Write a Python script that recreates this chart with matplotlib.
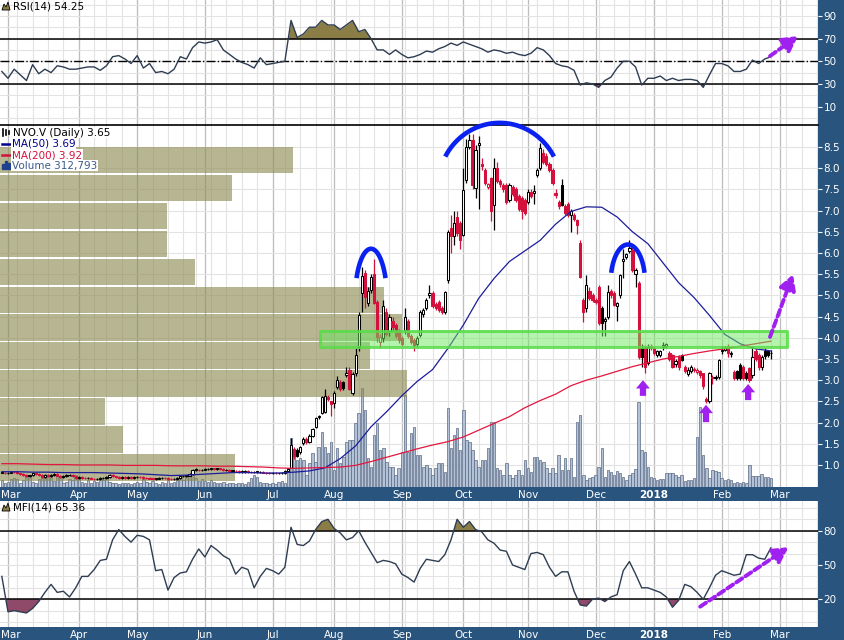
import numpy as np
import pandas as pd
import matplotlib
matplotlib.use("Agg")
import matplotlib.pyplot as plt
from matplotlib.lines import Line2D
from matplotlib.patches import Rectangle, Polygon

plt.rcParams['font.family'] = 'DejaVu Sans'

# ---- trading calendar (TSX Venture, holidays removed) ----
holidays = ["2017-04-14", "2017-05-22", "2017-07-03", "2017-08-07", "2017-09-04",
            "2017-10-09", "2017-12-25", "2017-12-26", "2018-01-01", "2018-02-19"]
days = pd.bdate_range("2017-02-27", "2018-03-30")
days = days[~days.isin(pd.to_datetime(holidays))]

# ---- daily candles NVO.V ----
opens = [0.83,0.82,0.81,0.82,0.84,0.83,0.80,0.78,0.76,0.74,
         0.76,0.80,0.78,0.77,0.72,0.76,0.74,0.77,0.79,0.75,
         0.71,0.74,0.77,0.76,0.73,0.70,0.71,0.70,0.69,0.70,
         0.68,0.66,0.67,0.69,0.70,0.72,0.76,0.73,0.71,0.70,
         0.71,0.70,0.71,0.70,0.71,0.72,0.71,0.70,0.69,0.68,
         0.67,0.68,0.69,0.70,0.69,0.67,0.66,0.67,0.70,0.73,
         0.74,0.75,0.78,0.90,0.88,0.87,0.89,0.90,0.91,0.92,
         0.91,0.92,0.90,0.89,0.88,0.87,0.86,0.85,0.85,0.84,
         0.85,0.84,0.83,0.84,0.83,0.84,0.82,0.81,0.80,0.81,
         0.80,0.80,0.81,0.86,0.93,1.38,1.36,1.30,1.52,1.62,
         1.55,1.68,1.90,2.12,2.23,2.25,2.60,2.50,2.46,2.84,
         2.95,2.95,3.12,3.25,2.70,3.17,3.78,5.05,5.53,4.83,
         5.13,5.50,4.84,3.90,4.00,4.60,4.15,4.40,4.30,4.15,
         4.00,4.18,4.40,4.05,3.95,3.85,4.07,4.55,4.70,5.00,
         5.05,4.80,4.85,4.70,4.60,5.36,6.60,6.40,6.85,6.70,
         6.42,7.72,8.50,8.66,7.53,8.55,8.10,7.95,7.55,7.77,
         7.13,8.00,7.70,7.60,7.60,7.25,7.55,7.50,7.35,7.30,
         7.25,7.20,7.45,7.42,7.83,8.00,8.35,8.30,8.10,7.95,
         7.42,7.20,7.60,7.10,7.15,6.90,6.90,6.78,6.24,4.89,
         4.70,5.10,5.00,4.88,5.20,4.70,4.40,4.50,5.10,5.05,
         4.76,5.00,5.80,5.90,6.05,6.07,5.50,5.30,3.77,3.78,
         3.40,3.80,3.75,3.60,3.60,3.78,3.80,3.63,3.60,3.38,
         3.55,3.60,3.32,3.15,3.22,3.27,3.20,3.22,3.16,2.55,
         2.50,3.06,3.04,3.07,3.68,3.72,3.80,3.62,3.20,3.22,
         3.35,3.30,3.18,3.28,3.13,3.70,3.60,3.30,3.70,3.68,
         3.63]
highs = [0.85,0.84,0.84,0.86,0.86,0.85,0.82,0.80,0.78,0.77,
         0.82,0.82,0.80,0.79,0.78,0.78,0.79,0.81,0.81,0.77,
         0.76,0.78,0.79,0.78,0.75,0.73,0.73,0.72,0.72,0.72,
         0.70,0.69,0.71,0.72,0.74,0.78,0.78,0.75,0.73,0.73,
         0.73,0.73,0.73,0.73,0.74,0.74,0.73,0.72,0.71,0.70,
         0.70,0.71,0.72,0.72,0.71,0.69,0.69,0.72,0.75,0.76,
         0.77,0.80,0.90,0.92,0.90,0.91,0.92,0.93,0.94,0.94,
         0.94,0.94,0.92,0.91,0.90,0.89,0.88,0.87,0.87,0.87,
         0.87,0.86,0.86,0.86,0.86,0.86,0.84,0.83,0.83,0.83,
         0.82,0.83,0.88,0.92,1.64,1.42,1.40,1.45,1.66,1.66,
         1.72,1.88,2.12,2.18,2.62,2.80,2.65,2.52,2.75,3.10,
         3.00,2.98,3.30,3.30,3.20,3.75,4.60,5.66,5.60,5.20,
         5.50,5.85,4.90,4.10,4.90,4.70,4.55,4.50,4.35,4.20,
         4.05,4.70,4.45,4.10,4.00,4.05,4.65,4.70,4.95,5.25,
         5.10,4.85,4.90,4.75,5.10,6.55,6.90,7.00,7.00,6.75,
         8.00,8.70,8.80,8.80,8.55,8.75,8.25,8.00,7.65,7.80,
         8.25,8.15,7.75,7.65,7.65,7.65,7.60,7.55,7.40,7.35,
         7.30,7.50,7.50,7.60,8.00,8.60,8.45,8.35,8.15,8.00,
         7.50,7.25,7.75,7.15,7.20,7.05,6.95,6.80,6.30,4.95,
         5.48,5.20,5.05,4.95,5.25,4.75,4.50,5.25,5.15,5.10,
         4.85,5.50,6.10,6.00,6.30,6.20,5.65,5.35,3.85,3.82,
         3.85,3.85,3.78,3.72,3.72,3.90,3.88,3.68,3.62,3.50,
         3.60,3.62,3.35,3.30,3.35,3.30,3.28,3.25,3.18,2.60,
         3.20,3.12,3.12,3.50,3.80,3.80,3.85,3.70,3.25,3.25,
         3.40,3.35,3.22,3.30,3.80,3.75,3.65,3.60,3.75,3.72,
         3.72]
lows = [0.80,0.79,0.79,0.80,0.81,0.78,0.76,0.74,0.72,0.72,
        0.74,0.76,0.75,0.70,0.70,0.72,0.72,0.75,0.73,0.69,
        0.69,0.72,0.74,0.72,0.68,0.68,0.68,0.67,0.67,0.66,
        0.64,0.64,0.65,0.67,0.68,0.70,0.71,0.69,0.68,0.68,
        0.68,0.68,0.68,0.68,0.69,0.69,0.68,0.67,0.66,0.65,
        0.65,0.66,0.67,0.67,0.65,0.64,0.64,0.65,0.68,0.71,
        0.72,0.73,0.76,0.86,0.85,0.85,0.87,0.88,0.89,0.89,
        0.89,0.88,0.86,0.86,0.84,0.84,0.83,0.82,0.82,0.82,
        0.82,0.81,0.81,0.82,0.81,0.80,0.79,0.78,0.78,0.78,
        0.78,0.78,0.79,0.84,0.92,1.15,1.18,1.25,1.48,1.50,
        1.52,1.65,1.88,2.08,2.20,2.22,2.50,2.15,2.35,2.80,
        2.75,2.78,3.08,2.78,2.65,3.10,3.70,4.60,4.70,4.75,
        5.05,4.80,3.90,3.75,3.90,4.05,4.05,4.15,4.00,3.88,
        3.80,4.10,4.00,3.85,3.70,3.78,4.02,4.50,4.65,4.95,
        4.70,4.65,4.60,4.55,4.55,5.30,6.00,6.20,6.40,6.10,
        6.40,7.65,8.45,7.50,7.30,7.05,7.95,7.60,7.50,6.75,
        6.55,7.65,7.55,7.45,7.15,7.20,7.35,7.20,7.00,6.80,
        6.90,7.15,7.30,7.15,7.80,7.95,8.10,8.05,7.90,7.60,
        7.30,7.05,7.10,6.90,6.85,6.50,6.75,6.45,5.40,4.38,
        4.60,4.90,4.85,4.80,4.30,4.05,4.05,4.45,4.95,4.75,
        4.40,4.95,5.40,5.85,6.00,5.55,5.20,3.50,3.30,3.16,
        3.35,3.72,3.60,3.55,3.55,3.72,3.75,3.45,3.28,3.30,
        3.25,3.45,3.18,3.10,3.18,3.20,3.15,3.05,2.80,2.45,
        2.45,2.90,3.00,3.02,3.62,3.68,3.55,3.55,3.00,3.00,
        3.00,3.00,3.00,2.95,3.05,3.45,3.25,3.25,3.50,3.55,
        3.50]
closes = [0.82,0.81,0.82,0.84,0.83,0.80,0.78,0.76,0.74,0.75,
          0.80,0.78,0.77,0.72,0.76,0.74,0.77,0.79,0.75,0.71,
          0.74,0.76,0.76,0.74,0.70,0.71,0.70,0.69,0.70,0.68,
          0.66,0.67,0.69,0.70,0.72,0.76,0.73,0.71,0.70,0.71,
          0.70,0.71,0.70,0.71,0.72,0.71,0.70,0.69,0.68,0.67,
          0.68,0.69,0.70,0.69,0.67,0.66,0.67,0.70,0.73,0.74,
          0.75,0.78,0.88,0.88,0.87,0.89,0.90,0.91,0.92,0.91,
          0.92,0.90,0.88,0.88,0.86,0.86,0.85,0.84,0.84,0.85,
          0.84,0.83,0.84,0.84,0.84,0.82,0.81,0.80,0.81,0.80,
          0.80,0.81,0.86,0.90,1.47,1.20,1.22,1.42,1.62,1.55,
          1.68,1.85,2.10,2.16,2.60,2.62,2.55,2.44,2.70,3.00,
          2.80,2.82,3.16,2.80,3.15,3.60,4.54,5.45,4.96,5.11,
          5.44,4.83,4.03,4.02,4.75,4.10,4.50,4.25,4.05,3.95,
          3.85,4.50,4.05,3.90,3.80,4.00,4.60,4.65,4.90,5.05,
          4.75,4.70,4.65,4.60,5.08,6.50,6.40,6.70,6.47,6.30,
          7.49,8.50,8.66,7.60,8.43,8.60,8.05,7.65,7.62,7.00,
          8.00,7.70,7.62,7.50,7.20,7.60,7.40,7.25,7.05,7.00,
          6.95,7.45,7.35,7.46,7.95,8.48,8.15,8.10,7.95,7.65,
          7.38,7.10,7.13,6.95,6.90,7.00,6.80,6.66,5.43,4.62,
          5.25,4.95,4.90,4.85,4.35,4.35,4.45,5.08,5.00,4.78,
          4.82,5.48,5.85,5.98,6.12,5.60,5.60,3.55,3.55,3.32,
          3.79,3.77,3.65,3.68,3.70,3.82,3.85,3.50,3.32,3.45,
          3.30,3.48,3.22,3.25,3.30,3.25,3.23,3.12,2.86,2.52,
          3.16,3.08,3.08,3.47,3.72,3.75,3.63,3.65,3.05,3.05,
          3.06,3.05,3.05,3.00,3.55,3.50,3.30,3.55,3.58,3.60,
          3.65]
# volume, thousands of shares
volume_k = [245,140,175,280,315,280,140,245,350,385,
            175,140,280,315,385,420,350,210,350,385,
            140,175,280,245,420,350,175,140,245,140,
            210,175,315,245,350,175,140,140,105,140,
            140,140,105,140,175,140,280,175,140,210,
            140,105,175,140,245,140,175,280,350,245,
            350,420,490,315,210,280,210,175,245,175,
            140,140,175,105,140,140,105,140,140,105,
            175,315,420,350,175,140,140,105,140,105,
            175,210,140,665,1715,1225,945,1015,945,420,
            840,1190,875,1400,1925,1400,1190,1575,595,1365,
            840,1050,1575,1645,1645,2240,2590,3465,2695,1015,
            700,1820,2240,1295,1365,875,700,700,420,665,
            1225,3220,1225,1890,2100,1120,1120,700,770,665,
            420,665,840,840,525,2765,1365,1820,2065,1295,
            2695,1645,1575,1295,945,700,945,945,1365,2275,
            2275,665,595,420,840,420,315,420,595,420,
            945,665,525,1050,1050,945,875,665,490,665,
            490,1120,595,1015,595,1015,350,2275,2520,420,
            245,315,350,420,700,1365,350,595,525,420,
            560,490,350,245,420,490,630,2975,1295,1225,
            700,350,315,245,280,280,490,490,490,420,
            350,420,210,245,245,315,1750,2800,1120,665,
            315,595,560,525,315,245,280,245,140,175,
            140,175,140,770,385,385,385,455,350,350,
            313]

# moving averages, read every 5th session
ma_step = 5
ma50 = [0.84,0.84,0.83,0.83,0.82,0.82,0.82,0.81,0.80,0.79,
        0.77,0.75,0.76,0.78,0.80,0.82,0.82,0.81,0.81,0.83,
        0.86,0.93,1.15,1.45,1.90,2.25,2.63,2.97,3.25,3.75,
        4.30,4.93,5.40,5.80,6.05,6.30,6.68,6.98,7.09,7.08,
        6.85,6.50,6.22,5.76,5.30,4.95,4.53,4.08,3.86,3.74,
        3.69]
ma200 = [1.03,1.03,1.02,1.01,1.01,1.00,1.00,1.00,0.99,0.99,
         0.99,0.98,0.98,0.98,0.97,0.97,0.96,0.95,0.93,0.92,
         0.93,0.94,0.95,0.99,1.08,1.18,1.28,1.38,1.47,1.55,
         1.66,1.82,1.98,2.14,2.35,2.52,2.67,2.87,3.00,3.10,
         3.21,3.32,3.41,3.50,3.56,3.63,3.69,3.74,3.80,3.86,
         3.92]

# oscillators, read every 2nd session
osc_step = 2
rsi = [41,35,43,38,33,47,39,43,40,46,
       45,43,43,44,45,45,42,46,54,55,
       52,48,55,44,48,40,41,39,43,54,
       52,62,67,66,67,69,60,56,52,49,
       47,44,53,47,48,49,50,86,71,74,
       80,80,86,82,82,78,82,86,76,78,
       70,60,60,56,60,56,53,54,56,59,
       58,61,63,66,64,67,65,63,61,58,
       60,59,57,58,56,55,57,62,60,55,
       48,46,45,42,29,31,30,27,33,36,
       44,50,50,45,29,35,35,37,33,35,
       33,34,34,33,27,38,48,48,46,41,
       41,43,51,48,52,54]
mfi = [40,9,10,9,8,12,18,26,33,26,
       27,22,30,40,40,46,54,55,72,81,
       75,70,76,75,72,45,46,28,39,43,
       44,55,64,57,67,63,58,55,42,48,
       46,30,40,47,45,42,48,83,68,67,
       71,81,88,90,82,78,72,74,80,70,
       61,52,54,53,51,42,39,35,47,55,
       54,53,59,72,90,83,88,81,79,72,
       69,63,62,50,48,46,60,61,59,48,
       40,44,44,27,15,14,20,21,18,22,
       24,45,53,42,30,30,28,26,22,13,
       19,33,31,26,20,30,41,45,43,41,
       42,59,59,56,55,65]

# volume by price (millions of shares per price zone)
vbp_lo = [0.62,1.28,1.94,2.60,3.26,3.92,4.58,5.24,5.90,6.56,7.22,7.88]
vbp_vol = [13.4,7.0,6.0,23.2,21.1,22.9,21.9,11.1,9.5,9.5,13.2,16.7]

# ---- styling ----
W, H = 844, 640
STRIP = '#29547e'
RED = '#d4103c'
NAVYLINE = '#1c1c9c'
MA200C = '#e2173f'
OSC = '#2e3d52'
OLIVE = '#8a7d45'
MAROON = '#8e4a68'
PURPLE = '#a020f0'
BLUE = '#0a22f0'
GRID = '#e3e3e3'
MGRID = '#bdbdbd'
FS = 7.5

fig = plt.figure(figsize=(W / 100, H / 100), dpi=100)
fig.patch.set_facecolor('white')


def box(top, bottom):
    return [0, 1 - bottom / H, 818 / W, (bottom - top) / H]


ax_rsi = fig.add_axes(box(0, 125))
ax_vol = fig.add_axes(box(125, 487))
ax_px = fig.add_axes(box(125, 487))
ax_px.set_facecolor('none')
ax_mfi = fig.add_axes(box(501, 627))

# dark strips (right scale + date bars)
fig.add_artist(Rectangle((818 / W, 0), 26 / W, 1, transform=fig.transFigure, color=STRIP, zorder=-5))
fig.add_artist(Rectangle((0, 1 - 501 / H), 1, 14 / H, transform=fig.transFigure, color=STRIP, zorder=-5))
fig.add_artist(Rectangle((0, 0), 1, 13 / H, transform=fig.transFigure, color=STRIP, zorder=-5))

n = len(closes)
x = np.arange(n)
xlim = (-0.6, 265.3)
month_idx = [i for i in range(1, len(days)) if days[i].month != days[i - 1].month]
week_idx = [i for i in range(1, len(days)) if days[i].weekday() < days[i - 1].weekday()]
month_lab = [str(days[i].year) if days[i].month == 1 else days[i].strftime('%b') for i in month_idx]
label_pos = [xlim[0] + 0.2] + month_idx[1:]

for ax in (ax_rsi, ax_vol, ax_px, ax_mfi):
    ax.set_xlim(*xlim)
    for s in ax.spines.values():
        s.set_visible(False)

for ax in (ax_rsi, ax_vol, ax_mfi):
    for w in week_idx:
        ax.axvline(w, color=GRID, lw=0.8, zorder=0)
    for m in month_idx:
        ax.axvline(m, color=MGRID, lw=0.9, zorder=0)

# ---- price panel ----
ax_px.set_ylim(0.48, 9.02)
ax_vol.set_ylim(0, 12670)
for p in np.arange(1.0, 9.0, 0.5):
    ax_vol.plot(xlim, [p, p], color=GRID, lw=0.8, zorder=0, transform=ax_px.transData)

ax_vol.bar(x, volume_k, width=0.8, color='#b3c2d6', edgecolor='#5a6a84', lw=0.5, zorder=2)

bar_len = 407 / 3.076
ax_px.barh(vbp_lo, [v / max(vbp_vol) * bar_len for v in vbp_vol], height=0.63,
           left=xlim[0], align='edge', color='#8c8a50', alpha=0.62, lw=0, zorder=1)

o, h, l, c = map(np.array, (opens, highs, lows, closes))
prev = np.r_[c[0], c[:-1]]
edge = ['black' if c[k] >= prev[k] else RED for k in range(n)]
face = ['white' if c[k] >= o[k] else edge[k] for k in range(n)]
ax_px.vlines(x, l, h, colors=edge, lw=0.9, zorder=3)
ax_px.bar(x, np.maximum(np.abs(c - o), 0.012), bottom=np.minimum(o, c), width=0.72,
          color=face, edgecolor=edge, lw=0.75, zorder=4)

ma_x = np.arange(0, n, ma_step)
ax_px.plot(ma_x, ma50, color=NAVYLINE, lw=0.9, zorder=5)
ax_px.plot(ma_x, ma200, color=MA200C, lw=0.9, zorder=5)

# support zone and pattern marks
ax_px.add_patch(Rectangle((103.4, 3.78), 151.8, 0.39, fc='#6ee861', ec='none', alpha=0.5, zorder=7))
ax_px.add_patch(Rectangle((103.4, 3.78), 151.8, 0.39, fill=False, ec='#58dc48', lw=2.2,
                          alpha=0.85, joinstyle='round', zorder=7))

for xc, yc, a, b, t1, t2 in [(120, 4.9, 5.2, 1.2, 25, 155),
                             (161.8, 7.57, 20, 1.5, 28, 152),
                             (203.5, 5.3, 5.6, 0.9, 15, 165)]:
    t = np.radians(np.linspace(t1, t2, 80))
    ax_px.plot(xc + a * np.cos(t), yc + b * np.sin(t), color=BLUE, lw=3.3,
               solid_capstyle='butt', zorder=8, clip_on=False)


def up_arrow(ax, xa, y0, y1):
    ax.annotate('', xy=(xa, y1), xytext=(xa, y0),
                arrowprops=dict(arrowstyle='simple,head_length=0.6,head_width=1.0,tail_width=0.45',
                                fc=PURPLE, ec='none', mutation_scale=10, shrinkA=0, shrinkB=0),
                zorder=9)


def dash_arrow(ax, p0, p1):
    ax.annotate('', xy=p1, xytext=p0, annotation_clip=False,
                arrowprops=dict(arrowstyle='-|>,head_length=0.9,head_width=0.5', color=PURPLE,
                                lw=2.8, linestyle=(0, (1.8, 1.0)), mutation_scale=10,
                                shrinkA=0, shrinkB=0),
                zorder=9)


up_arrow(ax_px, 208.4, 2.63, 3.0)
up_arrow(ax_px, 228.9, 2.01, 2.42)
up_arrow(ax_px, 242.6, 2.53, 2.91)
dash_arrow(ax_px, (249.7, 4.02), (257.2, 5.5))

ax_px.spines['top'].set_visible(True)
ax_px.spines['top'].set_color('black')
ax_px.spines['top'].set_linewidth(1.2)
ax_px.yaxis.tick_right()
ax_px.set_yticks(np.arange(1.0, 8.6, 0.5))
ax_px.set_yticklabels([f'{v:.1f}' for v in np.arange(1.0, 8.6, 0.5)])
ax_vol.set_xticks([])
ax_vol.set_yticks([])


def osc_panel(ax, vals, hi, lo, ylim, ticks):
    xs = np.arange(0, n, osc_step)
    v = np.array(vals, dtype=float)
    ax.set_ylim(*ylim)
    for g in range(0, 101, 10):
        ax.axhline(g, color=GRID, lw=0.8, zorder=0)
    ax.fill_between(xs, v, hi, where=v >= hi, interpolate=True, color=OLIVE, lw=0, zorder=2)
    ax.fill_between(xs, v, lo, where=v <= lo, interpolate=True, color=MAROON, lw=0, zorder=2)
    ax.plot(xs, v, color=OSC, lw=1.0, zorder=3)
    ax.axhline(hi, color='black', lw=1.1, zorder=2.5)
    ax.axhline(lo, color='black', lw=1.1, zorder=2.5)
    ax.yaxis.tick_right()
    ax.set_yticks(ticks)


osc_panel(ax_rsi, rsi, 70, 30, (-6.2, 104), [10, 30, 50, 70, 90])
ax_rsi.axhline(50, color='black', lw=1.0, ls='-.', zorder=2.5)
ax_rsi.set_xticks([])
dash_arrow(ax_rsi, (249.7, 54.6), (258.8, 72.2))

osc_panel(ax_mfi, mfi, 80, 20, (-4.3, 106), [20, 50, 80])
dash_arrow(ax_mfi, (227, 13.5), (255.7, 65.5))

for ax in (ax_px, ax_mfi):
    ax.set_xticks(label_pos)
    ax.set_xticklabels(month_lab)
    ticklabels = ax.get_xticklabels()
    ticklabels[0].set_horizontalalignment('left')
    for t, lab in zip(ticklabels, month_lab):
        if lab == '2018':
            t.set_fontweight('bold')
    ax.tick_params(axis='x', length=0, pad=2.5, colors='white', labelsize=FS)

for ax in (ax_rsi, ax_px, ax_mfi):
    ax.tick_params(axis='y', direction='out', length=3, width=0.8, color='white',
                   labelcolor='white', labelsize=FS, pad=1)


# ---- legend texts ----
def fx(px):
    return px / W


def fy(py):
    return 1 - py / H


def mountain(x0, y0):
    pts = [(x0, y0 + 8), (x0 + 2, y0 + 2), (x0 + 4, y0 + 5), (x0 + 6, y0), (x0 + 8, y0 + 8)]
    fig.add_artist(Polygon([(fx(a), fy(b)) for a, b in pts], closed=True, fc=OLIVE,
                           ec='black', lw=0.6, transform=fig.transFigure))


mountain(2, 2)
fig.text(fx(13), fy(6.5), 'RSI(14) 54.25', fontsize=FS, va='center', color='black')
mountain(2, 503)
fig.text(fx(13), fy(507.5), 'MFI(14) 65.36', fontsize=FS, va='center', color='black')

for k, xs0 in enumerate([3, 6, 9]):
    fig.add_artist(Line2D([fx(xs0), fx(xs0)], [fy(129 + k), fy(136 - k)], color='black', lw=1.2))
fig.text(fx(13), fy(132.5), 'NVO.V (Daily) 3.65', fontsize=FS, va='center', color='black',
         bbox=dict(fc='white', ec='none', pad=0.5))
fig.add_artist(Line2D([fx(2), fx(10)], [fy(144), fy(144)], color='#00008b', lw=1.8))
fig.text(fx(12), fy(144), 'MA(50) 3.69', fontsize=FS, va='center', color='#00008b',
         bbox=dict(fc='white', ec='none', pad=0.5))
fig.add_artist(Line2D([fx(2), fx(10)], [fy(155), fy(155)], color=RED, lw=1.8))
fig.text(fx(12), fy(155), 'MA(200) 3.92', fontsize=FS, va='center', color=RED,
         bbox=dict(fc='white', ec='none', pad=0.5))
for k, (xs0, hh) in enumerate([(3, 5), (6, 8), (9, 6)]):
    fig.add_artist(Rectangle((fx(xs0 - 1), fy(169)), 2 / W, hh / H, color='#1f3f8f',
                             transform=fig.transFigure))
fig.text(fx(12), fy(165.5), 'Volume 312,793', fontsize=FS, va='center', color='#3a5a8c',
         bbox=dict(fc='white', ec='none', pad=0.5))

fig.savefig('out.png', dpi=100)
